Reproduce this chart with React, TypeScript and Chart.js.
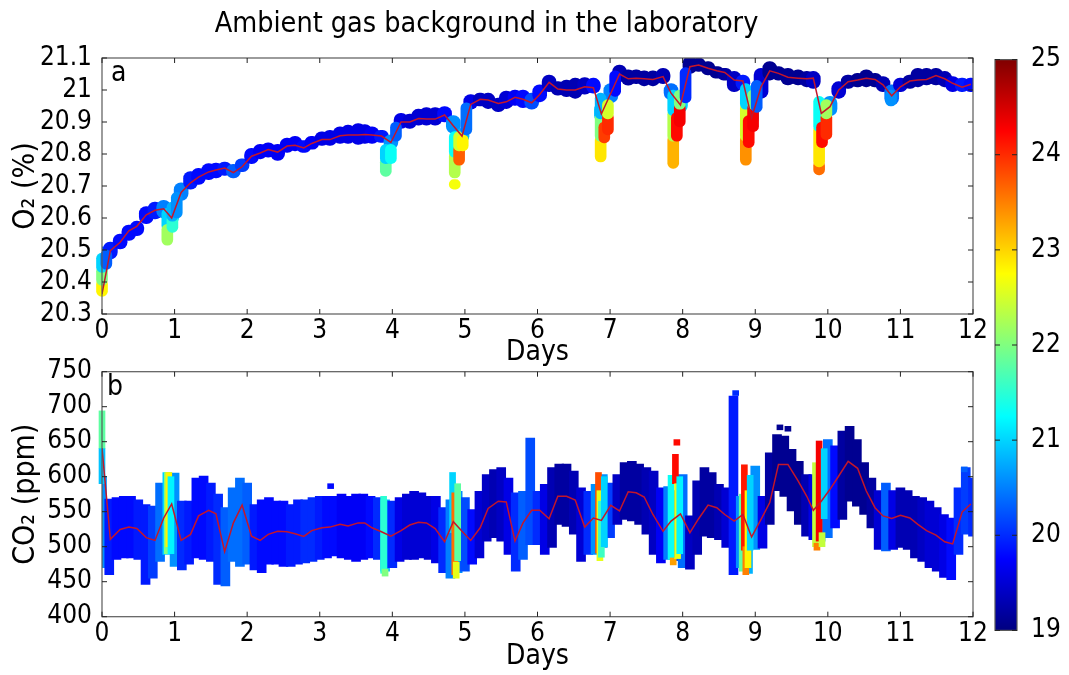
import React, { useEffect, useRef } from "react";
import { Chart, registerables } from "chart.js";

Chart.register(...registerables);

const FONT = '"DejaVu Sans Condensed", "DejaVu Sans", sans-serif';
const TITLE = "Ambient gas background in the laboratory";

// ---- shared time axis of the mean lines (days) ----
const DAYS = [
  0, 0.115, 0.25, 0.37, 0.48, 0.61, 0.73, 0.85, 0.96, 1.09,
  1.22, 1.33, 1.47, 1.57, 1.69, 1.81, 1.93, 2.06, 2.18, 2.29,
  2.42, 2.55, 2.66, 2.78, 2.89, 3.03, 3.14, 3.28, 3.39, 3.53,
  3.62, 3.72, 3.85, 3.98, 4.12, 4.24, 4.36, 4.47, 4.59, 4.72,
  4.84, 4.96, 5.08, 5.21, 5.32, 5.46, 5.57, 5.69, 5.8, 5.92,
  6.03, 6.16, 6.28, 6.4, 6.52, 6.65, 6.77, 6.88, 7.01, 7.13,
  7.25, 7.36, 7.47, 7.59, 7.73, 7.84, 7.97, 8.1, 8.22, 8.35,
  8.47, 8.58, 8.71, 8.83, 8.95, 9.08, 9.2, 9.32, 9.45, 9.59,
  9.71, 9.8, 9.91, 10.03, 10.15, 10.28, 10.41, 10.53, 10.65, 10.76,
  10.88, 11.0, 11.13, 11.24, 11.36, 11.49, 11.61, 11.72, 11.85, 11.97,
];

// ---- O2 panel ----
const O2_MEAN = [
  20.362, 20.498, 20.524, 20.56, 20.574, 20.61, 20.624, 20.629, 20.6, 20.68,
  20.71, 20.728, 20.744, 20.75, 20.756, 20.742, 20.76, 20.793, 20.803, 20.814,
  20.806, 20.825, 20.827, 20.819, 20.833, 20.845, 20.845, 20.857, 20.859, 20.859,
  20.861, 20.859, 20.856, 20.836, 20.9, 20.9, 20.911, 20.909, 20.909, 20.922,
  20.888, 20.856, 20.955, 20.971, 20.969, 20.958, 20.963, 20.977, 20.971, 20.96,
  20.986, 21.024, 21.003, 21.0, 21.0, 21.01, 21.007, 20.925, 20.99, 21.05,
  21.035, 21.037, 21.035, 21.033, 21.042, 20.99, 20.953, 21.073, 21.078, 21.068,
  21.06, 21.055, 21.031, 21.028, 20.913, 21.01, 21.06, 21.052, 21.04, 21.037,
  21.035, 21.037, 20.927, 20.948, 21.0, 21.026, 21.031, 21.037, 21.033, 21.016,
  20.982, 21.01, 21.028, 21.031, 21.033, 21.045, 21.035, 21.021, 21.009, 21.018,
];
const O2_LO = [
  20.45, 20.472, 20.503, 20.53, 20.545, 20.582, 20.597, 20.6, 20.58, 20.655,
  20.69, 20.705, 20.72, 20.725, 20.733, 20.725, 20.745, 20.77, 20.785, 20.79,
  20.78, 20.805, 20.81, 20.805, 20.815, 20.827, 20.827, 20.833, 20.833, 20.83,
  20.833, 20.833, 20.836, 20.815, 20.88, 20.88, 20.89, 20.89, 20.89, 20.9,
  20.865, 20.835, 20.94, 20.95, 20.942, 20.932, 20.942, 20.952, 20.945, 20.94,
  20.963, 20.995, 20.984, 20.979, 20.974, 20.987, 20.99, 20.9, 20.96, 21.026,
  21.015, 21.02, 21.013, 21.013, 21.02, 20.97, 20.93, 21.052, 21.058, 21.047,
  21.037, 21.031, 20.995, 21.0, 20.89, 20.974, 21.031, 21.031, 21.016, 21.016,
  21.01, 21.005, 20.9, 20.92, 20.974, 21.005, 21.01, 21.01, 21.01, 20.995,
  20.953, 20.995, 21.005, 21.01, 21.016, 21.016, 21.01, 20.995, 20.995, 20.995,
];
const O2_HI = [
  20.51, 20.525, 20.55, 20.578, 20.59, 20.636, 20.65, 20.655, 20.63, 20.71,
  20.745, 20.755, 20.77, 20.772, 20.775, 20.768, 20.785, 20.818, 20.83, 20.835,
  20.83, 20.85, 20.855, 20.842, 20.855, 20.869, 20.874, 20.885, 20.89, 20.895,
  20.892, 20.885, 20.874, 20.86, 20.927, 20.925, 20.94, 20.945, 20.945, 20.948,
  20.92, 20.88, 20.986, 20.99, 20.99, 20.975, 20.997, 21.0, 21.0, 20.99,
  21.016, 21.047, 21.026, 21.031, 21.037, 21.039, 21.037, 20.96, 21.02, 21.078,
  21.063, 21.063, 21.06, 21.06, 21.068, 21.02, 20.98, 21.105, 21.1, 21.089,
  21.073, 21.068, 21.058, 21.047, 20.95, 21.068, 21.089, 21.073, 21.068, 21.063,
  21.058, 21.058, 20.96, 20.98, 21.026, 21.047, 21.052, 21.063, 21.052, 21.042,
  21.016, 21.037, 21.047, 21.068, 21.068, 21.068, 21.058, 21.042, 21.037, 21.037,
];
const O2_TEMP = [
  20.4, 19.9, 19.8, 19.8, 19.8, 19.8, 19.9, 20.5, 20.9, 20.5,
  19.9, 19.8, 19.8, 19.8, 19.9, 20.3, 20.1, 19.8, 19.7, 19.7,
  19.7, 19.7, 19.7, 19.8, 19.7, 19.6, 19.6, 19.6, 19.6, 19.6,
  19.6, 19.7, 19.9, 20.6, 19.6, 19.5, 19.5, 19.5, 19.5, 19.8,
  20.6, 20.8, 19.6, 19.4, 19.4, 19.4, 19.5, 19.7, 19.8, 20.2,
  19.8, 19.4, 19.3, 19.3, 19.3, 19.4, 19.8, 20.9, 20.5, 19.3,
  19.2, 19.2, 19.2, 19.2, 19.3, 20.4, 21.0, 19.1, 19.1, 19.1,
  19.1, 19.2, 19.4, 19.9, 21.0, 19.5, 19.1, 19.1, 19.1, 19.1,
  19.2, 19.4, 21.0, 20.6, 19.5, 19.2, 19.1, 19.1, 19.1, 19.3,
  20.4, 19.5, 19.2, 19.2, 19.2, 19.2, 19.3, 19.6, 19.9, 19.8,
];
// warm O2 dips (vertical streaks)
const O2_DIP_DAYS = [
  0.0, 0.0, 0.0, 0.06, 0.9, 0.9, 0.97, 0.97, 1.03,
  3.91, 3.91, 3.98, 4.05,
  4.86, 4.86, 4.86, 4.92, 4.92, 4.97, 5.02,
  6.87, 6.87, 6.87, 6.92, 6.97, 6.97, 7.07,
  7.87, 7.87, 7.87, 7.92, 7.96, 7.96, 8.04,
  8.87, 8.87, 8.87, 8.91, 8.97, 8.97, 9.02,
  9.88, 9.88, 9.88, 9.92, 9.98, 9.98, 10.87,
];
const O2_DIP_LO = [
  20.355, 20.39, 20.43, 20.44, 20.56, 20.515, 20.555, 20.59, 20.6,
  20.73, 20.77, 20.77, 20.84,
  20.69, 20.725, 20.79, 20.765, 20.81, 20.81, 20.86,
  20.775, 20.84, 20.91, 20.835, 20.86, 20.91, 20.98,
  20.755, 20.84, 20.92, 20.84, 20.885, 20.94, 20.96,
  20.765, 20.84, 20.94, 20.82, 20.87, 20.94, 20.93,
  20.735, 20.76, 20.87, 20.82, 20.845, 20.91, 20.95,
];
const O2_DIP_HI = [
  20.41, 20.45, 20.49, 20.5, 20.63, 20.58, 20.61, 20.65, 20.68,
  20.79, 20.83, 20.83, 20.9,
  20.72, 20.81, 20.87, 20.83, 20.87, 20.86, 20.96,
  20.86, 20.93, 20.99, 20.9, 20.93, 20.97, 21.06,
  20.86, 20.94, 21.0, 20.93, 20.96, 21.0, 21.07,
  20.86, 20.96, 21.02, 20.92, 20.96, 21.0, 21.03,
  20.78, 20.89, 20.98, 20.9, 20.93, 20.97, 21.0,
];
const O2_DIP_TEMP = [
  22.8, 22.0, 21.0, 20.3, 21.0, 22.2, 21.5, 20.8, 20.6,
  21.8, 21.0, 21.3, 20.3,
  22.7, 22.3, 21.3, 23.7, 22.5, 22.8, 20.4,
  22.9, 22.0, 20.8, 23.9, 24.0, 22.5, 19.8,
  23.2, 22.3, 21.0, 24.2, 24.3, 22.0, 20.0,
  23.4, 22.5, 21.0, 24.2, 24.3, 22.0, 20.3,
  23.6, 22.9, 21.3, 24.2, 24.0, 22.2, 20.6,
];

// ---- CO2 panel ----
const CO2_MEAN = [
  641, 510.5, 524.7, 528, 526, 513, 509, 541, 561, 509,
  517.6, 544, 552, 547, 493, 534, 559.5, 515, 509, 517.6,
  522, 521.4, 518.5, 514.7, 523, 527, 528, 532, 529.5, 534,
  534, 527, 521.4, 515, 523, 531, 535, 534, 526, 507,
  535.7, 522, 509, 527, 554.7, 565, 564, 508, 534, 552,
  552, 540, 572, 572, 566.6, 528, 541, 537.6, 559, 551,
  578.5, 577, 571, 546, 522, 536.6, 547, 520, 540, 559.5,
  555.7, 546, 536.6, 546, 514, 539, 563, 617.6, 617.6, 594,
  572, 552, 565, 582, 601, 622, 612, 579.5, 555.7, 544,
  540.5, 545, 541, 532, 523, 516.6, 507, 504, 549.5, 561,
];
const CO2_BAND_DAYS = [
  0.0, 0.1, 0.2, 0.3, 0.4, 0.5, 0.6, 0.7, 0.8, 0.9,
  1.0, 1.1, 1.2, 1.3, 1.4, 1.5, 1.6, 1.7, 1.8, 1.9,
  2.0, 2.1, 2.2, 2.3, 2.4, 2.5, 2.6, 2.7, 2.8, 2.9,
  3.0, 3.1, 3.2, 3.3, 3.4, 3.5, 3.6, 3.7, 3.8, 3.9,
  4.0, 4.1, 4.2, 4.3, 4.4, 4.5, 4.6, 4.7, 4.8, 4.9,
  5.0, 5.1, 5.2, 5.3, 5.4, 5.5, 5.6, 5.7, 5.8, 5.9,
  6.0, 6.1, 6.2, 6.3, 6.4, 6.5, 6.6, 6.7, 6.8, 6.9,
  7.0, 7.1, 7.2, 7.3, 7.4, 7.5, 7.6, 7.7, 7.8, 7.9,
  8.0, 8.1, 8.2, 8.3, 8.4, 8.5, 8.6, 8.7, 8.8, 8.9,
  9.0, 9.1, 9.2, 9.3, 9.4, 9.5, 9.6, 9.7, 9.8, 9.9,
  10.0, 10.1, 10.2, 10.3, 10.4, 10.5, 10.6, 10.7, 10.8, 10.9,
  11.0, 11.1, 11.2, 11.3, 11.4, 11.5, 11.6, 11.7, 11.8, 11.9,
  12.0,
];
const CO2_HI = [
  600, 568, 570, 572, 572, 567, 560, 558, 591, 606,
  605, 565, 565, 598, 601, 591, 575, 556, 584, 598,
  591, 560, 567, 570, 565, 565, 560, 567, 567, 570,
  572, 572, 572, 575, 572, 575, 575, 572, 570, 567,
  565, 570, 575, 579, 577, 572, 572, 556, 567, 579,
  570, 553, 579, 603, 610, 613, 598, 577, 579, 655,
  579, 589, 613, 618, 618, 608, 584, 579, 589, 603,
  591, 603, 620, 622, 618, 613, 608, 584, 586, 580,
  603, 544, 594, 613, 606, 589, 584, 715, 572, 560,
  615, 572, 634, 660, 658, 639, 622, 603, 603, 600,
  653, 644, 665, 672, 653, 620, 598, 580, 591, 580,
  584, 580, 572, 570, 565, 556, 546, 541, 584, 613,
  598,
];
const CO2_LO = [
  470, 460, 482, 484, 484, 482, 446, 455, 479, 489,
  472, 467, 475, 484, 482, 479, 446, 444, 479, 472,
  475, 467, 463, 475, 475, 472, 472, 475, 477, 479,
  482, 484, 487, 484, 482, 479, 482, 484, 482, 465,
  470, 479, 482, 482, 484, 482, 477, 463, 455, 463,
  465, 475, 484, 508, 513, 508, 489, 465, 482, 503,
  503, 489, 499, 532, 529, 518, 479, 489, 489, 499,
  513, 532, 539, 537, 532, 518, 489, 477, 482, 480,
  470, 468, 489, 515, 513, 510, 499, 460, 470, 462,
  496, 498, 532, 580, 572, 551, 532, 515, 510, 508,
  513, 527, 539, 565, 558, 546, 527, 496, 494, 496,
  499, 496, 484, 479, 470, 465, 456, 453, 489, 518,
  515,
];
const CO2_TEMP = [
  20.6, 19.9, 19.8, 19.8, 19.8, 19.9, 19.9, 20.1, 20.4, 21.0,
  20.6, 20.0, 19.9, 19.8, 19.8, 19.9, 20.0, 20.3, 20.4, 20.4,
  20.3, 19.9, 19.8, 19.8, 19.8, 19.8, 19.9, 19.9, 20.0, 20.0,
  19.9, 19.8, 19.8, 19.7, 19.7, 19.7, 19.7, 19.8, 20.0, 20.8,
  20.0, 19.6, 19.5, 19.5, 19.5, 19.5, 19.6, 20.0, 20.5, 20.6,
  20.2, 19.8, 19.5, 19.4, 19.3, 19.4, 19.6, 20.0, 20.3, 20.2,
  20.0, 19.6, 19.3, 19.2, 19.2, 19.3, 19.5, 20.0, 20.6, 20.6,
  20.1, 19.4, 19.2, 19.2, 19.2, 19.3, 19.4, 19.7, 20.5, 20.2,
  20.4, 19.4, 19.3, 19.2, 19.2, 19.3, 19.5, 19.9, 20.6, 20.8,
  20.6, 19.6, 19.2, 19.1, 19.1, 19.1, 19.1, 19.3, 19.6, 20.6,
  20.4, 19.8, 19.2, 19.1, 19.1, 19.1, 19.2, 19.5, 20.3, 19.6,
  19.3, 19.3, 19.3, 19.4, 19.5, 19.5, 19.6, 19.8, 20.0, 20.1,
  20.0,
];
// warm streaks and isolated squares in the CO2 panel
const CO2_HOT_DAYS = [
  0.0, 0.0, 0.9, 0.92, 0.95, 3.15, 3.88, 3.9,
  4.83, 4.86, 4.88, 4.9,
  6.84, 6.86, 6.88, 6.92,
  7.84, 7.87, 7.9, 7.92, 7.93, 7.96,
  8.73, 8.82, 8.85, 8.87, 8.9, 8.93,
  9.34, 9.45,
  9.83, 9.85, 9.88, 9.92, 9.95, 11.88,
];
const CO2_HOT_LO = [
  640, 590, 490, 500, 490, 583, 462, 458,
  520, 460, 455, 480,
  491, 480, 485, 500,
  482, 474, 590, 645, 483, 490,
  716, 465, 495, 460, 470, 495,
  667, 665,
  500, 495, 508, 500, 540, 607,
];
const CO2_HOT_HI = [
  694, 640, 606, 606, 600, 590, 572, 468,
  606, 577, 478, 590,
  606, 580, 565, 600,
  602, 484, 632, 653, 590, 600,
  723, 575, 617, 500, 580, 602,
  674, 672,
  620, 505, 651, 520, 640, 614,
];
const CO2_HOT_TEMP = [
  21.8, 20.9, 22.0, 22.8, 21.2, 19.8, 21.5, 22.0,
  21.0, 23.6, 22.6, 21.8,
  23.8, 22.6, 21.6, 21.0,
  21.3, 23.3, 24.2, 24.2, 22.6, 21.2,
  20.0, 21.8, 24.1, 23.5, 22.8, 21.0,
  19.1, 19.1,
  22.4, 23.5, 24.3, 22.4, 21.0, 20.3,
];

// ---- axes ----
const DAY_TICKS = [0, 1, 2, 3, 4, 5, 6, 7, 8, 9, 10, 11, 12];
const O2_TICKS = [20.3, 20.4, 20.5, 20.6, 20.7, 20.8, 20.9, 21.0, 21.1];
const CO2_TICKS = [400, 450, 500, 550, 600, 650, 700, 750];
const CB_TICKS = [19, 20, 21, 22, 23, 24, 25];
const CB_STOPS = [19, 19.75, 20.5, 21.25, 22, 22.75, 23.5, 24.25, 25];
const T_MIN = 19;
const T_MAX = 25;

const MEAN_COLOR = "rgb(196,22,42)";

function jet(temp: number): string {
  const t = Math.max(0, Math.min(1, (temp - T_MIN) / (T_MAX - T_MIN)));
  const c = (v: number) => Math.round(255 * Math.max(0, Math.min(1, v)));
  return `rgb(${c(1.5 - Math.abs(4 * t - 3))},${c(1.5 - Math.abs(4 * t - 2))},${c(1.5 - Math.abs(4 * t - 1))})`;
}

const framePlugin = {
  id: "frame",
  afterDatasetsDraw(chart: any, _args: any, opts: any) {
    const { ctx, chartArea: a } = chart;
    ctx.save();
    ctx.strokeStyle = "#5a5a5a";
    ctx.lineWidth = 1.2;
    ctx.strokeRect(a.left, a.top, a.right - a.left, a.bottom - a.top);
    const L = 5;
    ctx.beginPath();
    const xs = chart.scales.x;
    if (xs && xs.options.display !== false) {
      for (const t of xs.ticks) {
        const px = xs.getPixelForValue(t.value);
        ctx.moveTo(px, a.bottom);
        ctx.lineTo(px, a.bottom - L);
        ctx.moveTo(px, a.top);
        ctx.lineTo(px, a.top + L);
      }
    }
    const ys = chart.scales.y;
    for (const t of ys.ticks) {
      const py = ys.getPixelForValue(t.value);
      ctx.moveTo(a.left, py);
      ctx.lineTo(a.left + L, py);
      ctx.moveTo(a.right, py);
      ctx.lineTo(a.right - L, py);
    }
    ctx.strokeStyle = "#222";
    ctx.lineWidth = 1;
    ctx.stroke();
    if (opts && opts.letter) {
      ctx.fillStyle = "#000";
      ctx.font = `28px ${FONT}`;
      ctx.textAlign = "left";
      ctx.textBaseline = "top";
      ctx.fillText(opts.letter, a.left + opts.dx, a.top + opts.dy);
    }
    ctx.restore();
  },
};

const tickFont = { family: FONT, size: 26 };

function makeAxes(opts: {
  yMin: number; yMax: number; yTicks: number[]; yTitle: string; xHeight: number; daysPad: number;
}) {
  return {
    x: {
      type: "linear",
      min: 0,
      max: 12,
      offset: false,
      grid: { display: false, drawTicks: false },
      border: { display: false },
      afterBuildTicks: (s: any) => { s.ticks = DAY_TICKS.map((v) => ({ value: v })); },
      ticks: { font: tickFont, color: "#000", padding: 2, maxRotation: 0, autoSkip: false },
      title: { display: true, text: "Days", font: { family: FONT, size: 28 }, color: "#000", padding: { top: 0, bottom: opts.daysPad } },
      afterFit: (s: any) => { s.height = opts.xHeight; },
    },
    y: {
      type: "linear",
      min: opts.yMin,
      max: opts.yMax,
      grid: { display: false, drawTicks: false },
      border: { display: false },
      afterBuildTicks: (s: any) => { s.ticks = opts.yTicks.map((v) => ({ value: v })); },
      ticks: {
        font: tickFont,
        color: "#000",
        padding: 10,
        autoSkip: false,
        callback: (v: any) => String(Math.round(Number(v) * 100) / 100),
      },
      title: { display: true, text: opts.yTitle, font: { family: FONT, size: 30 }, color: "#000", padding: { top: 8, bottom: 0 } },
      afterFit: (s: any) => { s.width = 102; },
    },
  };
}

export default function App() {
  const refA = useRef<HTMLCanvasElement>(null);
  const refB = useRef<HTMLCanvasElement>(null);
  const refC = useRef<HTMLCanvasElement>(null);

  useEffect(() => {
    Chart.defaults.font.family = FONT;
    const charts: Chart[] = [];

    // ---- panel a: O2 ----
    charts.push(new Chart(refA.current!, {
      type: "bar",
      data: {
        datasets: [
          {
            type: "line",
            data: DAYS.map((d, i) => ({ x: d, y: O2_MEAN[i] })),
            borderColor: MEAN_COLOR,
            borderWidth: 1.5,
            pointRadius: 0,
            order: 0,
          } as any,
          {
            type: "bar",
            data: O2_DIP_DAYS.map((d, i) => ({ x: d, y: [O2_DIP_LO[i], O2_DIP_HI[i]] })),
            backgroundColor: O2_DIP_TEMP.map(jet),
            barThickness: 11,
            borderRadius: 5.5,
            borderSkipped: false,
            grouped: false,
            clip: false,
            order: 1,
          } as any,
          {
            type: "bar",
            data: DAYS.map((d, i) => ({ x: d, y: [O2_LO[i], O2_HI[i]] })),
            backgroundColor: O2_TEMP.map(jet),
            barThickness: 14,
            borderRadius: 7,
            borderSkipped: false,
            grouped: false,
            order: 2,
          } as any,
        ],
      },
      options: {
        animation: false,
        responsive: false,
        maintainAspectRatio: false,
        layout: { padding: { top: 0, left: 0, right: 17, bottom: 0 } },
        plugins: {
          legend: { display: false },
          tooltip: { enabled: false },
          title: {
            display: true,
            text: TITLE,
            color: "#000",
            font: { family: FONT, size: 28.5, weight: "normal" },
            padding: { top: 7, bottom: 16.8 },
          },
          frame: { letter: "a", dx: 9, dy: 2 },
        } as any,
        scales: makeAxes({ yMin: 20.3, yMax: 21.1, yTicks: O2_TICKS, yTitle: "O₂ (%)", xHeight: 56, daysPad: 0 }) as any,
      },
      plugins: [framePlugin],
    }));

    // ---- panel b: CO2 ----
    charts.push(new Chart(refB.current!, {
      type: "bar",
      data: {
        datasets: [
          {
            type: "line",
            data: DAYS.map((d, i) => ({ x: d, y: CO2_MEAN[i] })),
            borderColor: MEAN_COLOR,
            borderWidth: 1.5,
            pointRadius: 0,
            order: 0,
          } as any,
          {
            type: "bar",
            data: CO2_HOT_DAYS.map((d, i) => ({ x: d, y: [CO2_HOT_LO[i], CO2_HOT_HI[i]] })),
            backgroundColor: CO2_HOT_TEMP.map(jet),
            barThickness: 6,
            borderSkipped: false,
            grouped: false,
            clip: false,
            order: 1,
          } as any,
          {
            type: "bar",
            data: CO2_BAND_DAYS.map((d, i) => ({ x: d, y: [CO2_LO[i], CO2_HI[i]] })),
            backgroundColor: CO2_TEMP.map(jet),
            barThickness: 9,
            borderSkipped: false,
            grouped: false,
            order: 2,
          } as any,
        ],
      },
      options: {
        animation: false,
        responsive: false,
        maintainAspectRatio: false,
        layout: { padding: { top: 31.7, left: 0, right: 17, bottom: 0 } },
        plugins: {
          legend: { display: false },
          tooltip: { enabled: false },
          frame: { letter: "b", dx: 5, dy: 2 },
        } as any,
        scales: makeAxes({ yMin: 400, yMax: 750, yTicks: CO2_TICKS, yTitle: "CO₂ (ppm)", xHeight: 58.3, daysPad: 1 }) as any,
      },
      plugins: [framePlugin],
    }));

    // ---- colour bar ----
    charts.push(new Chart(refC.current!, {
      type: "bar",
      data: {
        labels: ["T"],
        datasets: [
          {
            data: [[T_MIN, T_MAX]],
            backgroundColor: (ctx: any) => {
              const ch = ctx.chart;
              const a = ch.chartArea;
              if (!a) return jet(22);
              const g = ch.ctx.createLinearGradient(0, a.bottom, 0, a.top);
              for (const s of CB_STOPS) g.addColorStop((s - T_MIN) / (T_MAX - T_MIN), jet(s));
              return g;
            },
            barPercentage: 1,
            categoryPercentage: 1,
            borderWidth: 0,
          } as any,
        ],
      },
      options: {
        animation: false,
        responsive: false,
        maintainAspectRatio: false,
        layout: { padding: { top: 27, left: 10, right: 0, bottom: 25 } },
        plugins: { legend: { display: false }, tooltip: { enabled: false }, frame: {} } as any,
        scales: {
          x: { display: false },
          y: {
            position: "right",
            min: T_MIN,
            max: T_MAX,
            grid: { display: false, drawTicks: false },
            border: { display: false },
            afterBuildTicks: (s: any) => { s.ticks = CB_TICKS.map((v) => ({ value: v })); },
            ticks: { font: tickFont, color: "#000", padding: 14 },
            afterFit: (s: any) => { s.width = 52; },
          },
        } as any,
      },
      plugins: [framePlugin],
    }));

    return () => charts.forEach((c) => c.destroy());
  }, []);

  return (
    <div style={{ position: "absolute", left: 0, top: 0, width: 1069, height: 675, background: "#fff", overflow: "hidden" }}>
      <canvas ref={refA} width={990} height={370} style={{ position: "absolute", left: 0, top: 0 }} />
      <canvas ref={refB} width={990} height={335} style={{ position: "absolute", left: 0, top: 340 }} />
      <canvas ref={refC} width={84} height={630} style={{ position: "absolute", left: 985, top: 30 }} />
    </div>
  );
}
